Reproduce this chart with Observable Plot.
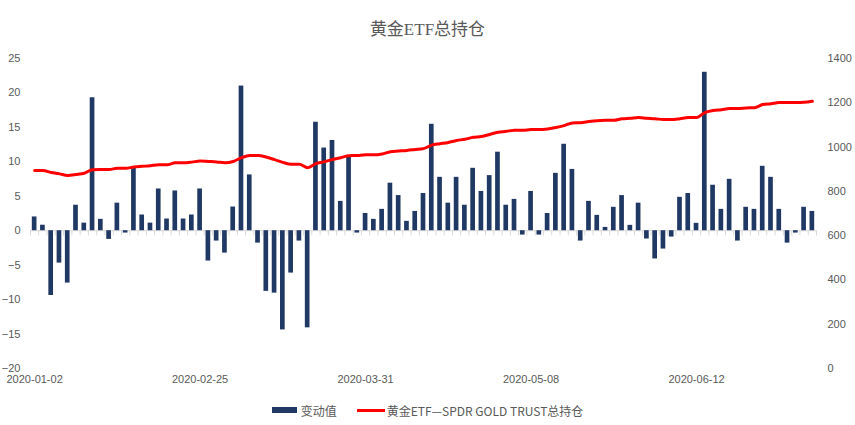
<!DOCTYPE html>
<html><head><meta charset="utf-8">
<script src="https://cdn.jsdelivr.net/npm/d3@7"></script>
<script src="https://cdn.jsdelivr.net/npm/@observablehq/plot@0.6"></script>
<style>
body{margin:0;background:#fff;width:855px;height:425px;overflow:hidden;font-family:"Liberation Sans",Arial,sans-serif;}
#title{height:45px;text-align:center;font-size:17px;font-family:"Liberation Serif","Noto Sans CJK SC",serif;color:#595959;line-height:60px;overflow:visible;}
#legend{height:30px;display:flex;justify-content:center;align-items:center;font-size:12px;color:#595959;font-family:"Liberation Sans Narrow","Noto Sans CJK SC",sans-serif;}
.item{display:flex;align-items:center;margin:0 10px;}
.sw{display:inline-block;margin-right:4px;}
</style>
</head><body>
<div id="title">黄金ETF总持仓</div>
<div id="chart"></div>
<div id="legend"></div>
<script>
const title = "黄金ETF总持仓";
const seriesBar = "变动值";
const seriesLine = "黄金ETF—SPDR GOLD TRUST总持仓";
const changes = [2.0, 0.8, -9.4, -4.7, -7.6, 3.7, 1.1, 19.3, 1.65, -1.26, 4.0, -0.34, 9.3, 2.28, 1.1, 6.06, 1.7, 5.77, 1.7, 2.28,
 6.06, -4.4, -1.5, -3.25, 3.44, 21.0, 8.1, -1.8, -8.8, -9.06, -14.4, -6.15, -1.5, -14.1, 15.75, 12.0, 13.1, 4.26, 10.8, -0.34,
 2.5, 1.65, 3.1, 6.9, 5.1, 1.36, 2.8, 5.4, 15.45, 7.75, 4.0, 7.75, 3.7, 9.06, 5.7, 8.0, 11.4, 3.7, 4.55, -0.63,
 5.7, -0.63, 2.5, 8.33, 12.55, 8.9, -1.5, 4.26, 2.23, 0.48, 3.4, 5.1, 0.78, 4.0, -1.2, -4.1, -2.66, -0.92, 4.85, 5.4,
 1.07, 23.0, 6.6, 3.1, 7.46, -1.5, 3.4, 3.1, 9.35, 7.75, 3.1, -1.8, -0.34, 3.4, 2.8];
const holdings = [894, 894, 885, 879, 872, 876, 882, 898, 899, 899, 904, 904, 910, 913, 916, 920, 920, 929, 929, 932,
 937, 935, 933, 929, 935, 952, 962, 962, 955, 943, 931, 922, 922, 907, 925, 933, 944, 952, 961, 962,
 965, 965, 969, 979, 982, 985, 989, 993, 1009, 1015, 1021, 1030, 1035, 1044, 1048, 1057, 1067, 1071, 1076, 1076,
 1079, 1079, 1082, 1088, 1097, 1109, 1110, 1115, 1119, 1121, 1121, 1128, 1130, 1133, 1130, 1128, 1124, 1124, 1128, 1133,
 1133, 1156, 1165, 1169, 1174, 1174, 1177, 1178, 1192, 1196, 1201, 1201, 1201, 1202, 1207];
const labelIndex = [0, 20, 40, 60, 80];
const labelText = ["2020-01-02", "2020-02-25", "2020-03-31", "2020-05-08", "2020-06-12"];
const leftTicks = [-20, -15, -10, -5, 0, 5, 10, 15, 20, 25];
const rightTicks = [0, 200, 400, 600, 800, 1000, 1200, 1400];

const navy = "#203864", red = "#ff0000", grey = "#595959";
const L0 = -20, L1 = 25, R0 = 0, R1 = 1400;
const toLeft = v => L0 + (v - R0) * (L1 - L0) / (R1 - R0);
const fromLeft = v => R0 + (v - L0) * (R1 - R0) / (L1 - L0);

const data = changes.map((c, i) => ({i, change: c, hold: holdings[i]}));
const boundaries = d3.range(changes.length + 1);

const chart = Plot.plot({
  width: 855, height: 350,
  marginLeft: 30, marginRight: 39, marginTop: 13, marginBottom: 27,
  style: {fontSize: "11px", fontFamily: "'Liberation Sans', Arial, sans-serif", color: grey, background: "#fff"},
  x: {domain: [0, changes.length]},
  y: {domain: [L0, L1]},
  marks: [
    Plot.ruleY([0], {stroke: "#d9d9d9", strokeWidth: 1}),
    Plot.ruleX(boundaries, {x: d => d, y1: 0, y2: -0.75, stroke: "#d9d9d9"}),
    Plot.rectY(data, {x1: "i", x2: d => d.i + 1, y: "change", fill: navy, insetLeft: 1.8, insetRight: 1.8}),
    Plot.line(data, {x: d => d.i + 0.5, y: d => toLeft(d.hold), stroke: red, strokeWidth: 3, curve: "monotone-x"}),
    Plot.axisY({ticks: leftTicks, tickSize: 0, tickPadding: 10, label: null, fill: grey}),
    Plot.axisY({anchor: "right", ticks: rightTicks.map(toLeft), tickFormat: d => String(Math.round(fromLeft(d))), tickSize: 0, tickPadding: 11, label: null, fill: grey}),
    Plot.axisX({ticks: labelIndex.map(i => i + 0.5), tickFormat: d => labelText[labelIndex.indexOf(d - 0.5)], tickSize: 0, tickPadding: 7, label: null, fill: grey})
  ]
});
document.getElementById("chart").appendChild(chart);

document.getElementById("legend").innerHTML =
  `<span class="item"><span class="sw" style="width:25px;height:6px;background:${navy}"></span>${seriesBar}</span>` +
  `<span class="item"><span class="sw" style="width:28px;height:3px;background:${red};margin-right:2px"></span>${seriesLine}</span>`;
</script>
</body></html>
